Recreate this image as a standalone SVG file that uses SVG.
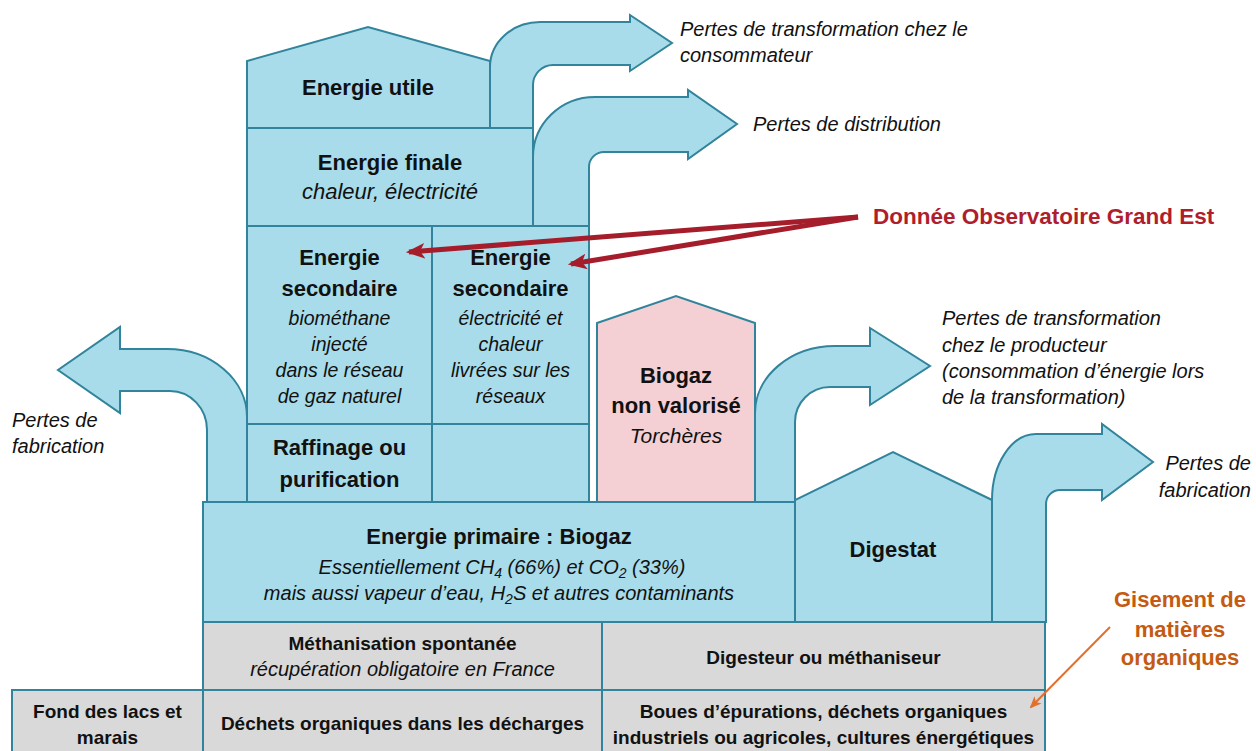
<svg xmlns="http://www.w3.org/2000/svg" width="1256" height="751" viewBox="0 0 1256 751">
<style>
.blk{fill:#A8DCEA;stroke:#31849B;stroke-width:2;stroke-linejoin:miter}
.pink{fill:#F4D0D4;stroke:#31849B;stroke-width:2}
.gray{fill:#D9D9D9;stroke:#31849B;stroke-width:2}
text{font-family:"Liberation Sans",Arial,sans-serif;fill:#111}
.h{font-weight:bold;font-size:22px;text-anchor:middle}
.i{font-style:italic;font-size:20px;text-anchor:middle}
.tb{font-weight:bold;font-size:19px;text-anchor:middle}
.lab{font-style:italic;font-size:20px}
.red{fill:#AF1E2D;font-weight:bold;font-size:22.5px}
.org{fill:#C55A11;font-weight:bold;font-size:22px;text-anchor:middle}
.redline{stroke:#A51D2B;stroke-width:5;fill:none}
.orgline{stroke:#E0702E;stroke-width:2;fill:none}
</style>
<defs>
<marker id="redhead" viewBox="0 0 12 10" refX="10" refY="5" markerWidth="3.8" markerHeight="3.6" orient="auto" markerUnits="strokeWidth">
<path d="M0,0 L12,5 L0,10 L3,5 Z" fill="#A51D2B"/>
</marker>
<marker id="orghead" viewBox="0 0 12 10" refX="10" refY="5" markerWidth="6" markerHeight="5.5" orient="auto" markerUnits="strokeWidth">
<path d="M0,0 L12,5 L0,10 L3,5 Z" fill="#E0702E"/>
</marker>
</defs>

<g id="loss-consommateur">
<path class="blk" d="M490,128 V67 A50,45 0 0 1 540,22 H630 V15 L672,43 L630,71 V65 H553 A20,20 0 0 0 533,85 V128 Z"/>
<text class="lab" x="680" y="36">Pertes de transformation chez le</text>
<text class="lab" x="680" y="62">consommateur</text>
</g>

<g id="loss-distribution">
<path class="blk" d="M533,226 V157 A62,60 0 0 1 595,97 H688 V90 L737,124 L688,159 V152 H604 A15,15 0 0 0 589,167 V226 Z"/>
<text class="lab" x="753" y="131">Pertes de distribution</text>
</g>

<g id="loss-fabrication-gauche">
<path class="blk" d="M247,502 V417 A80,68 0 0 0 167,349 H120 V327 L58,370 L120,413 V391 H170 A37,39 0 0 1 207,430 V502 Z"/>
<text class="lab" x="12" y="427">Pertes de</text>
<text class="lab" x="12" y="453">fabrication</text>
</g>

<g id="loss-producteur">
<path class="blk" d="M755,502 V413 A80,67 0 0 1 835,346 H870 V328 L930,366 L870,405 V387 H830 A35,35 0 0 0 795,422 V502 Z"/>
<text class="lab" x="942" y="325">Pertes de transformation</text>
<text class="lab" x="942" y="352">chez le producteur</text>
<text class="lab" x="942" y="378">(consommation d’énergie lors</text>
<text class="lab" x="942" y="404">de la transformation)</text>
</g>

<g id="loss-fabrication-droite">
<path class="blk" d="M992,622 V500 A44,66 0 0 1 1036,434 H1102 V424 L1153,462 L1102,500 V490 H1060 A14,14 0 0 0 1046,504 V622 Z"/>
<text class="lab" x="1251" y="470" text-anchor="end">Pertes de</text>
<text class="lab" x="1251" y="497" text-anchor="end">fabrication</text>
</g>

<g id="energie-utile">
<path class="blk" d="M247,128 V61 L368,27 L490,61 V128 Z"/>
<text class="h" x="368" y="95">Energie utile</text>
</g>

<g id="energie-finale">
<rect class="blk" x="247" y="128" width="286" height="98"/>
<text class="h" x="390" y="170">Energie finale</text>
<text class="i" x="390" y="199" style="font-size:22px">chaleur, électricité</text>
</g>

<g id="secondaire-biomethane">
<rect class="blk" x="247" y="226" width="185" height="198"/>
<text class="h" x="339.5" y="265">Energie</text>
<text class="h" x="339.5" y="296">secondaire</text>
<text class="i" x="339.5" y="325" style="font-size:19.5px">biométhane</text>
<text class="i" x="339.5" y="351" style="font-size:19.5px">injecté</text>
<text class="i" x="339.5" y="377" style="font-size:19.5px">dans le réseau</text>
<text class="i" x="339.5" y="403" style="font-size:19.5px">de gaz naturel</text>
</g>

<g id="secondaire-reseaux">
<rect class="blk" x="432" y="226" width="157" height="198"/>
<text class="h" x="510.5" y="265">Energie</text>
<text class="h" x="510.5" y="296">secondaire</text>
<text class="i" x="510.5" y="325" style="font-size:19.5px">électricité et</text>
<text class="i" x="510.5" y="351" style="font-size:19.5px">chaleur</text>
<text class="i" x="510.5" y="377" style="font-size:19.5px">livrées sur les</text>
<text class="i" x="510.5" y="403" style="font-size:19.5px">réseaux</text>
</g>

<g id="raffinage">
<rect class="blk" x="247" y="424" width="185" height="78"/>
<text class="h" x="339.5" y="455">Raffinage ou</text>
<text class="h" x="339.5" y="487">purification</text>
</g>

<g id="vide">
<rect class="blk" x="432" y="424" width="157" height="78"/>
</g>

<g id="biogaz-non-valorise">
<path class="pink" d="M597,502 V323 L676,296 L755,323 V502 Z"/>
<text class="h" x="676" y="383">Biogaz</text>
<text class="h" x="676" y="413">non valorisé</text>
<text class="i" x="676" y="443" style="font-size:21px">Torchères</text>
</g>

<g id="energie-primaire">
<rect class="blk" x="203" y="502" width="592" height="120"/>
<text class="h" x="499" y="544">Energie primaire : Biogaz</text>
<text class="i" x="502" y="574">Essentiellement CH<tspan font-size="14" dy="4">4</tspan><tspan dy="-4"> (66%) et CO</tspan><tspan font-size="14" dy="4">2</tspan><tspan dy="-4"> (33%)</tspan></text>
<text class="i" x="499" y="600">mais aussi vapeur d’eau, H<tspan font-size="14" dy="4">2</tspan><tspan dy="-4">S et autres contaminants</tspan></text>
</g>

<g id="digestat">
<path class="blk" d="M795,622 V500 L893,452 L992,500 V622 Z"/>
<text class="h" x="893" y="557">Digestat</text>
</g>

<g id="methanisation-spontanee">
<rect class="gray" x="203" y="622" width="399" height="68"/>
<text class="tb" x="402.5" y="650">Méthanisation spontanée</text>
<text class="i" x="402.5" y="676">récupération obligatoire en France</text>
</g>

<g id="digesteur">
<rect class="gray" x="602" y="622" width="443" height="68"/>
<text class="tb" x="823.5" y="664">Digesteur ou méthaniseur</text>
</g>

<g id="fond-lacs">
<rect class="gray" x="12" y="690" width="191" height="66"/>
<text class="tb" x="107.5" y="718">Fond des lacs et</text>
<text class="tb" x="107.5" y="744">marais</text>
</g>

<g id="decharges">
<rect class="gray" x="203" y="690" width="399" height="66"/>
<text class="tb" x="402.5" y="730">Déchets organiques dans les décharges</text>
</g>

<g id="boues">
<rect class="gray" x="602" y="690" width="443" height="66"/>
<text class="tb" x="823.5" y="718">Boues d’épurations, déchets organiques</text>
<text class="tb" x="823.5" y="744">industriels ou agricoles, cultures énergétiques</text>
</g>

<g id="observatoire">
<text class="red" x="873" y="224">Donnée Observatoire Grand  Est</text>
</g>

<g id="gisement">
<text class="org" x="1180" y="607">Gisement de</text>
<text class="org" x="1180" y="637">matières</text>
<text class="org" x="1180" y="665">organiques</text>
</g>

<g id="connectors">
<line class="redline" x1="858" y1="217" x2="409" y2="252" marker-end="url(#redhead)"/>
<line class="redline" x1="858" y1="217" x2="571" y2="264" marker-end="url(#redhead)"/>
<line class="orgline" x1="1110" y1="627" x2="1031" y2="707" marker-end="url(#orghead)"/>
</g>
</svg>
